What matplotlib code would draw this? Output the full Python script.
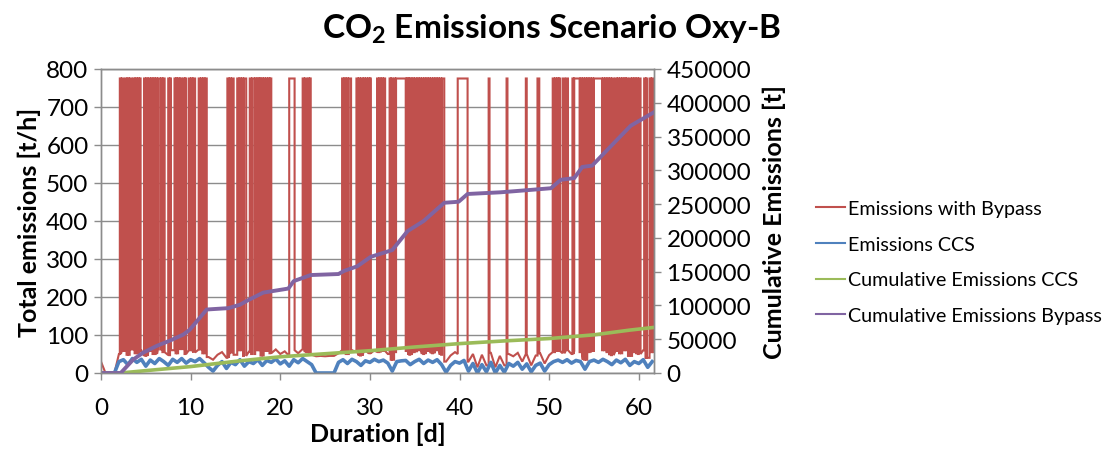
import numpy as np
import matplotlib
matplotlib.use("Agg")
import matplotlib.pyplot as plt
from matplotlib.lines import Line2D

plt.rcParams['font.family'] = ['Lato', 'DejaVu Sans']
plt.rcParams['mathtext.fontset'] = 'custom'
plt.rcParams['mathtext.rm'] = 'Lato'
plt.rcParams['mathtext.bf'] = 'Lato:bold'

# ---------------- data ----------------
STEP = 0.5  # days between samples of the hourly-ish traces

# Emissions CCS [t/h], sampled every 0.5 d from day 0
blue_ccs = [0, 0, 0, 0, 30, 35, 22, 38, 28, 36, 18, 34, 25, 38, 30, 20, 36, 28, 38, 26,
            35, 30, 38, 27, 15, 5, 20, 30, 12, 28, 22, 35, 18, 30, 25, 35, 20, 33, 28, 37,
            24, 32, 18, 35, 27, 38, 30, 22, 0, 0, 0, 0, 0, 28, 35, 25, 36, 30, 20, 32,
            28, 36, 30, 34, 26, 5, 30, 32, 33, 22, 30, 36, 25, 34, 28, 35, 22, 2, 20, 30,
            26, 33, 5, 25, 0, 22, 3, 28, 0, 20, 2, 25, 18, 28, 10, 24, 3, 20, 26, 5,
            22, 30, 34, 28, 35, 26, 33, 30, 10, 30, 34, 28, 36, 30, 22, 34, 27, 36, 20, 30,
            25, 35, 15, 30]

# Emissions with Bypass, level while the bypass is closed [t/h], every 0.5 d
red_low = [30, 0, 0, 0, 50, 58, 48, 62, 52, 60, 45, 58, 50, 62, 55, 47, 60, 52, 63, 50,
           60, 54, 62, 52, 42, 35, 48, 55, 40, 54, 48, 60, 45, 56, 50, 60, 46, 58, 52, 62,
           50, 57, 45, 60, 52, 63, 55, 48, 44, 45, 44, 45, 45, 52, 60, 50, 60, 55, 46, 57,
           52, 60, 55, 58, 50, 35, 55, 57, 58, 48, 55, 60, 50, 58, 52, 60, 48, 30, 46, 55,
           50, 57, 30, 50, 15, 48, 20, 53, 15, 45, 20, 50, 44, 53, 30, 50, 20, 46, 52, 25,
           47, 55, 58, 52, 60, 50, 58, 55, 35, 55, 58, 52, 60, 55, 47, 58, 52, 60, 45, 55,
           50, 60, 40, 55]

# Emissions with Bypass while the bypass is open [t/h]
red_high = 775

# periods (start day, end day) with the bypass open
bypass_pulses = [
    (2.10, 2.22), (2.32, 2.48),
    (2.70, 2.85), (2.95, 3.10), (3.20, 3.40),
    (3.60, 3.75), (3.85, 4.00), (4.10, 4.25), (4.32, 4.42),
    (4.80, 4.95), (5.05, 5.20), (5.30, 5.50),
    (5.60, 5.75), (5.85, 6.00),
    (6.10, 6.25), (6.35, 6.60),
    (6.70, 6.85), (6.95, 7.10),
    (7.50, 7.62), (7.70, 7.80),
    (8.20, 8.32), (8.40, 8.50),
    (8.60, 8.75), (8.85, 9.00),
    (9.20, 9.32), (9.40, 9.50),
    (9.80, 9.95), (10.05, 10.20), (10.30, 10.50),
    (10.90, 11.05), (11.15, 11.30), (11.40, 11.55), (11.65, 11.80),
    (14.10, 14.25), (14.35, 14.50), (14.60, 14.80),
    (15.20, 15.35), (15.45, 15.60), (15.70, 15.85), (15.95, 16.20),
    (16.60, 16.75), (16.85, 17.10),
    (17.20, 17.35), (17.45, 17.60), (17.68, 17.80),
    (17.90, 18.05), (18.15, 18.30),
    (18.40, 18.55), (18.65, 18.80), (18.88, 19.00),
    (21.00, 21.60),
    (22.50, 22.65), (22.75, 22.90),
    (23.10, 23.22), (23.30, 23.40),
    (26.90, 27.05), (27.15, 27.30), (27.40, 27.55), (27.65, 27.90),
    (28.50, 28.65), (28.75, 28.90), (29.00, 29.20),
    (29.30, 29.45), (29.55, 29.70), (29.80, 29.95), (30.02, 30.10),
    (30.80, 30.95), (31.05, 31.20),
    (31.30, 31.45), (31.55, 31.70),
    (32.20, 32.32), (32.40, 32.50),
    (32.70, 32.82), (32.92, 34.00),
    (34.10, 34.22), (34.30, 34.40),
    (34.50, 34.65), (34.75, 34.90), (35.00, 35.20),
    (35.30, 35.45), (35.55, 35.70), (35.80, 35.95), (36.05, 36.20), (36.30, 36.45),
    (36.55, 36.70), (36.80, 36.95), (37.05, 37.20), (37.30, 37.45), (37.55, 37.70),
    (37.80, 37.95), (38.05, 38.30),
    (39.80, 40.90),
    (43.25, 43.35),
    (45.25, 45.35),
    (47.40, 47.50),
    (48.70, 48.90),
    (50.40, 50.55), (50.65, 50.80), (50.90, 51.05), (51.12, 51.20),
    (51.50, 51.70),
    (51.90, 52.10),
    (52.60, 52.72), (52.80, 53.40),
    (53.50, 53.65), (53.75, 53.90), (54.00, 54.15), (54.25, 54.40), (54.50, 54.65),
    (54.75, 54.90),
    (55.00, 55.90),
    (56.00, 56.15), (56.25, 56.40), (56.50, 56.65), (56.75, 56.90), (57.00, 57.20),
    (57.40, 57.55), (57.65, 57.80), (57.90, 58.05), (58.15, 58.30), (58.40, 58.55),
    (58.62, 58.80),
    (59.00, 59.15), (59.25, 59.40), (59.50, 59.65), (59.75, 59.90), (60.00, 60.20),
    (60.60, 60.75), (60.82, 60.90),
    (61.20, 61.35), (61.45, 61.60),
]

# Cumulative emissions [t] (right axis)
cum_ccs_days = [0, 2.2, 5, 10, 15.5, 20, 25, 30, 35, 40, 45, 50, 55, 59, 61.7]
cum_ccs = [0, 0, 3500, 9500, 18000, 24000, 28500, 33000, 38500, 43500, 47500, 51000,
           56500, 63500, 67500]

cum_bypass_days = [0, 2.2, 3.6, 4.7, 6.2, 7.7, 9.2, 9.9, 11.8, 14.2, 15.5, 16.3, 18.1,
                   20.9, 21.5, 23.4, 26.5, 27.1, 28.6, 30.1, 32.5, 34.2, 36.0, 38.3,
                   39.9, 40.9, 44.6, 47.9, 50.2, 51.3, 52.8, 53.7, 54.8, 57.2, 59.1, 61.7]
cum_bypass = [0, 0, 20000, 30000, 40000, 48000, 57000, 64000, 94000, 96000, 101000,
              107000, 119000, 125000, 136000, 145000, 146500, 151000, 158000, 172000,
              182000, 210000, 225000, 252000, 253500, 265000, 267500, 271000, 273500,
              286000, 288500, 305000, 307000, 340000, 366000, 386000]

x_ticks = [0, 10, 20, 30, 40, 50, 60]
y_ticks = [0, 100, 200, 300, 400, 500, 600, 700, 800]
y2_ticks = [0, 50000, 100000, 150000, 200000, 250000, 300000, 350000, 400000, 450000]

# ---------------- build the bypass trace from the pulses ----------------
sample_t = np.arange(len(red_low)) * STEP
blue_t = np.arange(len(blue_ccs)) * STEP


def low_at(t):
    i = int(round(t / STEP))
    i = min(max(i, 0), len(red_low) - 1)
    return red_low[i]


pts = []
seq = 0
for t, v in zip(sample_t, red_low):
    if any(a <= t <= b for a, b in bypass_pulses):
        continue
    pts.append((t, seq, v)); seq += 1
for a, b in bypass_pulses:
    for t, v in ((a, low_at(a)), (a, red_high), (b, red_high), (b, low_at(b))):
        pts.append((t, seq, v)); seq += 1
pts.sort(key=lambda p: (p[0], p[1]))
red_t = [p[0] for p in pts]
red_v = [p[2] for p in pts]

# ---------------- colours ----------------
C_RED = '#C0504D'
C_BLUE = '#4F81BD'
C_GREEN = '#9BBB59'
C_PURPLE = '#8064A2'
GRID = '#8C8C8C'

# ---------------- figure ----------------
W, H = 1110, 456
fig = plt.figure(figsize=(W / 100, H / 100), dpi=100)
ax = fig.add_axes([101 / W, 82 / H, 553 / W, 304 / H])
ax2 = ax.twinx()

ax.plot(red_t, red_v, color=C_RED, lw=1.5, solid_joinstyle='miter')
ax.plot(blue_t, blue_ccs, color=C_BLUE, lw=2.6)
ax2.plot(cum_ccs_days, cum_ccs, color=C_GREEN, lw=2.6)
ax2.plot(cum_bypass_days, cum_bypass, color=C_PURPLE, lw=2.8)

ax.set_xlim(0, 61.7)
ax.set_ylim(0, 800)
ax2.set_ylim(0, 450000)
ax.set_xticks(x_ticks)
ax.set_yticks(y_ticks)
ax2.set_yticks(y2_ticks)
ax.yaxis.grid(True, color=GRID, lw=1.0)
ax.set_axisbelow(True)

for a in (ax, ax2):
    for s in a.spines.values():
        s.set_color(GRID)
        s.set_linewidth(1.0)
    a.tick_params(axis='both', colors=GRID, labelcolor='black', labelsize=17.5,
                  length=5, width=1, direction='out', pad=4)
ax.tick_params(axis='x', pad=12)

ax.set_xlabel('Duration [d]', fontsize=18, fontweight='bold', labelpad=3)
ax.set_ylabel('Total emissions [t/h]', fontsize=18, fontweight='bold', labelpad=4)
ax2.set_ylabel('Cumulative Emissions [t]', fontsize=18, fontweight='bold', labelpad=8)

fig.text(0.497, 0.935, r'CO$_\mathbf{2}$ Emissions Scenario Oxy-B', ha='center',
         va='center', fontsize=24, fontweight='bold')

handles = [Line2D([], [], color=C_RED, lw=1.5),
           Line2D([], [], color=C_BLUE, lw=1.5),
           Line2D([], [], color=C_GREEN, lw=1.5),
           Line2D([], [], color=C_PURPLE, lw=1.5)]
labels = ['Emissions with Bypass', 'Emissions CCS', 'Cumulative Emissions CCS',
          'Cumulative Emissions Bypass']
fig.legend(handles, labels, loc='upper left', bbox_to_anchor=(816 / W, 1 - 201 / H),
           frameon=False, fontsize=14.2, handlelength=1.45, handletextpad=0.15,
           labelspacing=0.95, borderaxespad=0, borderpad=0)

fig.savefig('out.png', dpi=100)
